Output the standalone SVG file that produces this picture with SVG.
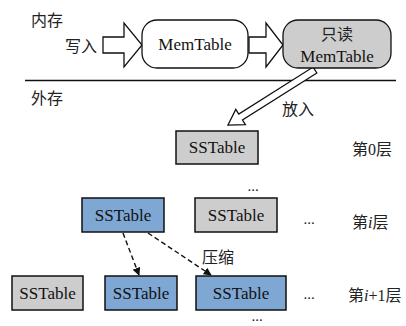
<svg xmlns="http://www.w3.org/2000/svg" width="406" height="326" viewBox="0 0 406 326">
<defs>
<style>
.lbl{font-family:"Liberation Serif","Noto Sans CJK SC",serif;font-size:16px;fill:#222}
.tt{font-family:"Liberation Serif","Noto Sans CJK SC",serif;font-size:17px;fill:#111;text-anchor:middle}
.gray{fill:#cdcdcd;stroke:#111;stroke-width:1.5}
.blue{fill:#7ea7d3;stroke:#111;stroke-width:1.5}
.blk{fill:#fff;stroke:#111;stroke-width:1.3}
.dash{fill:none;stroke:#111;stroke-width:1.4;stroke-dasharray:5 3}
.dots{font-family:"Liberation Serif",serif;font-size:15px;fill:#222;text-anchor:middle}
</style>
<marker id="ah" viewBox="0 0 10 10" refX="9" refY="5" markerWidth="8" markerHeight="8" markerUnits="userSpaceOnUse" orient="auto">
<path d="M0,0 L10,5 L0,10 z" fill="#111"/>
</marker>
</defs>
<rect width="406" height="326" fill="#fff"/>
<text class="lbl" x="31" y="26">内存</text>
<text class="lbl" x="31" y="104">外存</text>
<line x1="25" y1="80.5" x2="396" y2="80.5" stroke="#111" stroke-width="1.3"/>
<g id="connectors">
<polygon id="write-arrow" class="blk" points="103,37 124,37 124,23 142,45 124,67 124,53 103,53"/>
<text class="lbl" x="65" y="52">写入</text>
<polygon id="move-arrow" class="blk" points="249,37 266,37 266,23 283,45 266,67 266,53 249,53"/>
<polygon id="put-arrow" class="blk" points="0,-3.5 88,-3.5 88,-9 103,0 88,9 88,3.5 0,3.5" transform="translate(315,70) rotate(147.7)"/>
<text class="lbl" x="282" y="115">放入</text>
<line class="dash" x1="123" y1="233" x2="139" y2="275" marker-end="url(#ah)"/>
<line class="dash" x1="148" y1="233" x2="211" y2="275" marker-end="url(#ah)"/>
<text class="lbl" x="202" y="263">压缩</text>
</g>
<g id="memtable">
<rect class="blk" x="142" y="20" width="106" height="48" rx="15"/>
<text class="tt" x="195" y="50">MemTable</text>
</g>
<g id="ro-memtable">
<rect x="283" y="20" width="108" height="48" rx="15" fill="#cdcdcd" stroke="#111" stroke-width="1.3"/>
<text class="lbl" x="337" y="40" text-anchor="middle" fill="#333">只读</text>
<text class="tt" x="337" y="62">MemTable</text>
</g>
<g id="l0-sst">
<rect class="gray" x="176" y="131" width="82" height="33"/>
<text class="tt" x="217" y="153">SSTable</text>
</g>
<text class="lbl" x="352" y="155">第0层</text>
<text class="dots" x="253" y="191">...</text>
<g id="li-sst1">
<rect class="blue" x="82" y="198" width="82" height="34"/>
<text class="tt" x="123" y="221">SSTable</text>
</g>
<g id="li-sst2">
<rect class="gray" x="195" y="198" width="82" height="34"/>
<text class="tt" x="236" y="221">SSTable</text>
</g>
<text class="dots" x="309" y="224">...</text>
<text class="lbl" x="352" y="228">第<tspan font-style="italic">i</tspan>层</text>
<g id="li1-sst1">
<rect class="gray" x="12" y="276" width="71" height="34"/>
<text class="tt" x="47.5" y="299">SSTable</text>
</g>
<g id="li1-sst2">
<rect class="blue" x="105" y="276" width="72" height="34"/>
<text class="tt" x="141" y="299">SSTable</text>
</g>
<g id="li1-sst3">
<rect class="blue" x="196" y="276" width="90" height="34"/>
<text class="tt" x="241" y="299">SSTable</text>
</g>
<text class="dots" x="309" y="299">...</text>
<text class="lbl" x="348" y="301">第<tspan font-style="italic">i</tspan>+1层</text>
<text class="dots" x="257" y="321">...</text>
</svg>
